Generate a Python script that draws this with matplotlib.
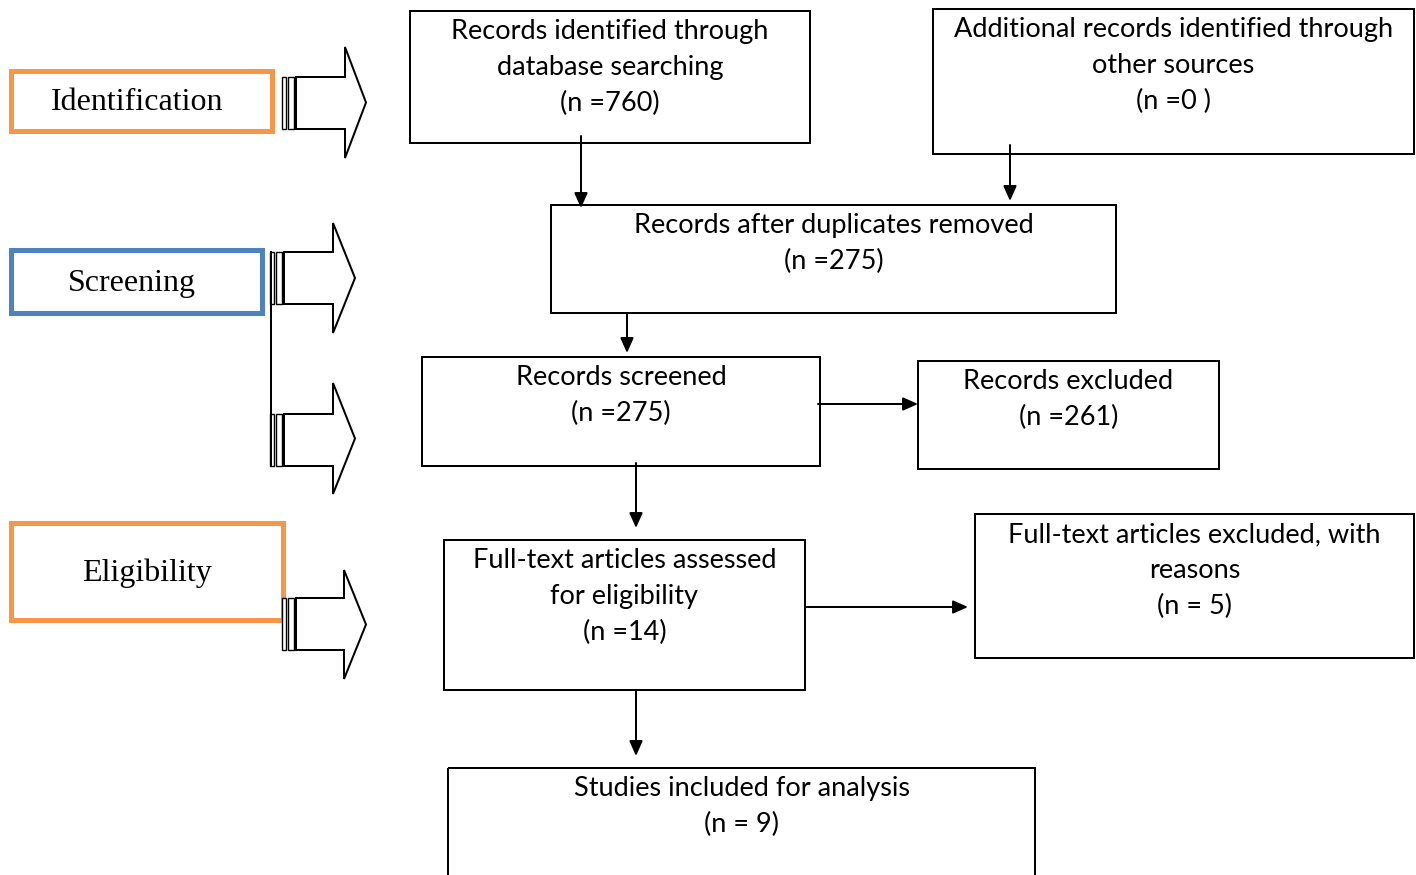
import matplotlib
matplotlib.use("Agg")
import matplotlib.pyplot as plt
from matplotlib.patches import Rectangle, Polygon

# flow boxes: lines of text in each box
box_texts = [
    ["Records identified through", "database searching", "(n =760)"],
    ["Additional records identified through", "other sources", "(n =0 )"],
    ["Records after duplicates removed", "(n =275)"],
    ["Records screened", "(n =275)"],
    ["Records excluded", "(n =261)"],
    ["Full-text articles assessed", "for eligibility", "(n =14)"],
    ["Full-text articles excluded, with", "reasons", "(n = 5)"],
    ["Studies included for analysis", "(n = 9)"],
]
# (x0, y0, x1, y1, first text line centre) in pixels
box_pos = [
    (410, 11, 810, 143, 30),
    (933, 9, 1414, 154, 28),
    (551, 205, 1116, 313, 224),
    (422, 357, 820, 466, 376),
    (918, 361, 1219, 469, 380),
    (444, 540, 805, 690, 559),
    (975, 514, 1414, 658, 533),
    (448, 768, 1035, 880, 787),
]

stage_labels = ["Identification", "Screening", "Eligibility"]
stage_colors = ["#F79646", "#4F81BD", "#F79646"]
stage_pos = [(11, 71, 272, 131), (11, 250, 262, 313), (11, 523, 283, 620)]
stage_text_x = [137, 132, 147]

# connector arrows: start -> end
arrows = [
    ((581, 136), (581, 208)),
    ((1010, 145), (1010, 201)),
    ((627, 313), (627, 353)),
    ((818, 404), (918, 404)),
    ((636, 463), (636, 528)),
    ((805, 607), (968, 607)),
    ((636, 690), (636, 756)),
]

# striped block arrows: x_start, body_top, body_bot, head_x, tip_x, head_top, head_bot
block_arrows = [
    (282, 77, 129, 345, 366, 47, 158),
    (270, 252, 304, 333, 355, 223, 333),
    (270, 414, 466, 333, 355, 383, 494),
    (282, 598, 650, 344, 366, 570, 679),
]

W, H = 1416, 875
fig = plt.figure(figsize=(W / 100, H / 100), dpi=100)
ax = fig.add_axes([0, 0, 1, 1])
ax.set_xlim(0, W)
ax.set_ylim(H, 0)
ax.axis("off")

sans = ["Lato", "DejaVu Sans"]
lw = 2 * 0.72

for lines, (x0, y0, x1, y1, ty) in zip(box_texts, box_pos):
    ax.add_patch(Rectangle((x0, y0), x1 - x0, y1 - y0, fill=False,
                           edgecolor="black", linewidth=lw))
    for i, line in enumerate(lines):
        ax.text((x0 + x1) / 2, ty + 36 * i + 9, line, ha="center",
                va="baseline", fontsize=19.5, family=sans)

for label, color, (x0, y0, x1, y1), tx in zip(stage_labels, stage_colors,
                                              stage_pos, stage_text_x):
    ax.add_patch(Rectangle((x0, y0), x1 - x0, y1 - y0, fill=False,
                           edgecolor=color, linewidth=5 * 0.72))
    ax.text(tx, (y0 + y1) / 2 + 9, label, ha="center",
            va="baseline", fontsize=23, family=["Liberation Serif"])

for (xs, ys), (xe, ye) in arrows:
    ax.annotate("", xy=(xe, ye), xytext=(xs, ys),
                arrowprops=dict(arrowstyle="-|>,head_length=0.9,head_width=0.4",
                                color="black", lw=lw, shrinkA=0, shrinkB=0))

for xs, bt, bb, hx, tx, ht, hb in block_arrows:
    ax.add_patch(Rectangle((xs, bt), 4, bb - bt, facecolor="white",
                           edgecolor="black", linewidth=1.0))
    ax.add_patch(Rectangle((xs + 6, bt), 6, bb - bt, facecolor="white",
                           edgecolor="black", linewidth=1.0))
    body = [(xs + 14, bt), (hx, bt), (hx, ht), (tx, (ht + hb) / 2),
            (hx, hb), (hx, bb), (xs + 14, bb)]
    ax.add_patch(Polygon(body, closed=True, facecolor="white",
                         edgecolor="black", linewidth=lw))

# line joining the two screening arrows
ax.plot([271, 271], [252, 466], color="black", linewidth=lw)

fig.savefig("out.png", dpi=100)
